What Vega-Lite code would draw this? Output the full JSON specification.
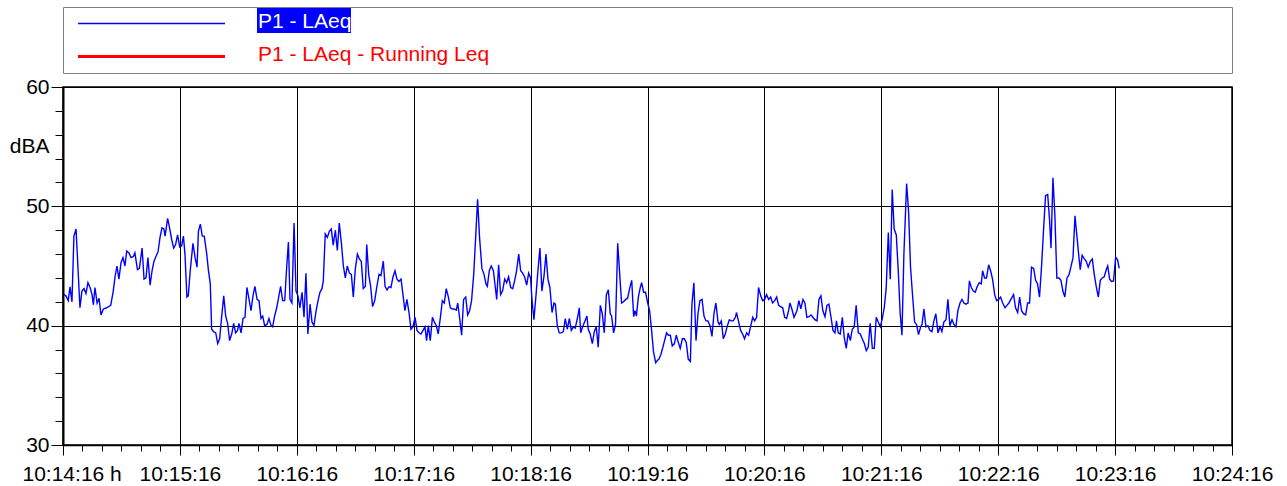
{
  "$schema": "https://vega.github.io/schema/vega-lite/v6.json",
  "background": "white",
  "padding": {"left": 8, "top": 6, "right": 5, "bottom": 5},
  "spacing": 14,
  "bounds": "flush",
  "config": {"font": "Liberation Sans", "axis": {"labelFont": "Liberation Sans"}},
  "vconcat": [
    {
      "width": 1169,
      "height": 66,
      "view": {"stroke": "#7f7f7f", "strokeWidth": 1},
      "data": {"values": [{"series": "P1 - LAeq"}, {"series": "P1 - LAeq - Running Leq"}]},
      "encoding": {
        "y": {"field": "series", "type": "nominal", "scale": {"type": "point", "padding": 0.5}, "axis": null}
      },
      "layer": [
        {
          "mark": {"type": "rule"},
          "encoding": {
            "x": {"datum": 15, "type": "quantitative", "scale": {"domain": [0, 1169], "nice": false, "zero": false}, "axis": null},
            "x2": {"datum": 162},
            "stroke": {"field": "series", "type": "nominal", "scale": {"domain": ["P1 - LAeq", "P1 - LAeq - Running Leq"], "range": ["#0000FF", "#FF0000"]}, "legend": null},
            "strokeWidth": {"field": "series", "type": "nominal", "scale": {"domain": ["P1 - LAeq", "P1 - LAeq - Running Leq"], "range": [1.6, 2.8]}, "legend": null}
          }
        },
        {
          "transform": [{"filter": "datum.series == 'P1 - LAeq'"}],
          "mark": {"type": "rect", "height": 25, "yOffset": -3, "color": "#0000FF"},
          "encoding": {
            "x": {"datum": 194, "type": "quantitative", "axis": null},
            "x2": {"datum": 288}
          }
        },
        {
          "mark": {"type": "text", "align": "left", "baseline": "alphabetic", "dy": 4, "fontSize": 21, "font": "Liberation Sans"},
          "encoding": {
            "x": {"datum": 195, "type": "quantitative", "axis": null},
            "text": {"field": "series"},
            "color": {"condition": {"test": "datum.series == 'P1 - LAeq'", "value": "white"}, "value": "#FF0000"}
          }
        }
      ]
    },
    {
      "width": 1169,
      "height": 358,
      "view": {"stroke": "black", "strokeWidth": 1.5},
      "data": {"values": [
        {"t":0.5,"LAeq":42.6},{"t":1.5,"LAeq":42.5},{"t":2.7,"LAeq":42.1},{"t":3.6,"LAeq":43.25},{"t":4.6,"LAeq":42.0},{"t":5.6,"LAeq":47.5},{"t":6.7,"LAeq":48.1},{"t":8.7,"LAeq":41.5},{"t":9.7,"LAeq":42.9},{"t":10.8,"LAeq":43.1},{"t":11.8,"LAeq":42.7},{"t":12.8,"LAeq":43.6},{"t":13.9,"LAeq":43.2},{"t":14.9,"LAeq":42.6},{"t":15.6,"LAeq":41.75},{"t":16.4,"LAeq":43.2},{"t":17.5,"LAeq":41.9},{"t":18.5,"LAeq":42.3},{"t":19.5,"LAeq":40.9},{"t":20.7,"LAeq":41.4},{"t":22.4,"LAeq":41.5},{"t":24.5,"LAeq":41.7},{"t":25.8,"LAeq":42.9},{"t":26.7,"LAeq":44.1},{"t":27.7,"LAeq":45.0},{"t":28.7,"LAeq":43.9},{"t":29.8,"LAeq":45.3},{"t":30.8,"LAeq":45.7},{"t":31.8,"LAeq":45.0},{"t":32.7,"LAeq":46.25},{"t":33.9,"LAeq":46.1},{"t":34.9,"LAeq":45.7},{"t":36.1,"LAeq":45.8},{"t":36.9,"LAeq":46.1},{"t":38.2,"LAeq":44.7},{"t":39.2,"LAeq":44.8},{"t":40.6,"LAeq":46.5},{"t":41.6,"LAeq":43.9},{"t":42.6,"LAeq":44.0},{"t":43.6,"LAeq":45.7},{"t":44.7,"LAeq":43.4},{"t":45.7,"LAeq":44.6},{"t":46.7,"LAeq":45.4},{"t":47.7,"LAeq":45.8},{"t":48.8,"LAeq":46.2},{"t":49.8,"LAeq":47.4},{"t":50.8,"LAeq":48.2},{"t":51.8,"LAeq":48.1},
        {"t":52.4,"LAeq":47.5},{"t":53.7,"LAeq":49.0},{"t":54.7,"LAeq":48.2},{"t":55.8,"LAeq":47.2},{"t":56.8,"LAeq":46.5},{"t":57.8,"LAeq":46.8},{"t":58.8,"LAeq":47.6},{"t":59.9,"LAeq":46.6},{"t":60.9,"LAeq":46.7},{"t":61.8,"LAeq":47.5},{"t":62.6,"LAeq":46.0},{"t":63.6,"LAeq":42.4},{"t":64.3,"LAeq":42.5},{"t":65.3,"LAeq":44.6},{"t":66.7,"LAeq":46.9},{"t":67.8,"LAeq":45.7},{"t":68.8,"LAeq":44.9},{"t":69.5,"LAeq":47.9},{"t":70.5,"LAeq":48.5},{"t":71.5,"LAeq":47.5},{"t":72.5,"LAeq":47.5},{"t":73.7,"LAeq":46.1},{"t":74.6,"LAeq":44.7},{"t":75.6,"LAeq":43.5},{"t":76.3,"LAeq":39.7},{"t":77.3,"LAeq":39.5},{"t":78.4,"LAeq":39.4},{"t":79.4,"LAeq":38.5},{"t":80.4,"LAeq":38.9},{"t":81.4,"LAeq":40.7},{"t":82.5,"LAeq":42.5},{"t":83.5,"LAeq":40.8},{"t":84.5,"LAeq":40.2},{"t":85.5,"LAeq":38.75},{"t":86.6,"LAeq":39.3},{"t":87.6,"LAeq":40.2},{"t":88.6,"LAeq":39.4},{"t":89.6,"LAeq":39.6},{"t":90.3,"LAeq":40.2},{"t":91.4,"LAeq":39.4},{"t":92.4,"LAeq":40.6},{"t":93.4,"LAeq":40.7},{"t":94.4,"LAeq":43.2},{"t":95.5,"LAeq":42.2},{"t":96.5,"LAeq":41.25},{"t":97.5,"LAeq":42.5},{"t":98.5,"LAeq":43.3},{"t":99.6,"LAeq":42.2},{"t":100.6,"LAeq":42.1},{"t":101.6,"LAeq":40.6},{"t":102.5,"LAeq":40.8},{"t":103.5,"LAeq":40.0},{"t":104.7,"LAeq":40.1},{"t":105.7,"LAeq":40.6},
        {"t":106.8,"LAeq":40.0},{"t":107.6,"LAeq":39.9},{"t":108.6,"LAeq":40.8},{"t":109.7,"LAeq":41.5},{"t":110.7,"LAeq":42.4},{"t":111.7,"LAeq":43.3},{"t":112.7,"LAeq":42.1},{"t":113.8,"LAeq":42.1},{"t":114.8,"LAeq":44.9},{"t":115.7,"LAeq":47.0},{"t":116.5,"LAeq":42.2},{"t":117.5,"LAeq":41.9},{"t":118.6,"LAeq":48.6},{"t":119.6,"LAeq":42.9},{"t":120.6,"LAeq":42.5},{"t":121.6,"LAeq":41.5},{"t":122.7,"LAeq":42.8},{"t":123.7,"LAeq":40.7},{"t":124.7,"LAeq":44.4},{"t":125.7,"LAeq":39.3},{"t":126.8,"LAeq":41.8},{"t":127.8,"LAeq":40.3},{"t":128.8,"LAeq":40.0},{"t":129.9,"LAeq":41.25},{"t":130.9,"LAeq":42.1},{"t":131.9,"LAeq":42.8},{"t":132.9,"LAeq":43.1},{"t":133.6,"LAeq":43.75},{"t":134.6,"LAeq":47.7},{"t":135.7,"LAeq":47.4},{"t":136.7,"LAeq":47.9},{"t":137.7,"LAeq":48.1},{"t":138.7,"LAeq":46.75},{"t":139.8,"LAeq":48.0},{"t":140.8,"LAeq":46.3},{"t":141.8,"LAeq":48.6},{"t":142.9,"LAeq":46.9},{"t":143.9,"LAeq":45.0},{"t":144.9,"LAeq":44.0},{"t":145.9,"LAeq":45.0},{"t":147.0,"LAeq":44.4},{"t":148.0,"LAeq":44.3},{"t":149.0,"LAeq":42.4},{"t":150.0,"LAeq":44.7},{"t":151.1,"LAeq":46.0},{"t":152.1,"LAeq":45.6},{"t":153.1,"LAeq":45.4},{"t":154.1,"LAeq":43.1},{"t":155.2,"LAeq":43.3},{"t":155.9,"LAeq":46.8},{"t":156.9,"LAeq":44.3},{"t":157.9,"LAeq":43.3},{"t":158.9,"LAeq":41.6},{"t":160.0,"LAeq":42.1},
        {"t":161.1,"LAeq":43.3},{"t":162.2,"LAeq":44.3},{"t":163.2,"LAeq":44.2},{"t":164.4,"LAeq":45.4},{"t":165.3,"LAeq":43.3},{"t":166.3,"LAeq":43.0},{"t":167.3,"LAeq":43.25},{"t":168.3,"LAeq":43.2},{"t":169.4,"LAeq":44.1},{"t":170.4,"LAeq":44.6},{"t":171.4,"LAeq":43.9},{"t":172.4,"LAeq":43.7},{"t":173.5,"LAeq":43.9},{"t":174.5,"LAeq":42.6},{"t":175.5,"LAeq":41.25},{"t":176.5,"LAeq":42.2},{"t":177.6,"LAeq":41.1},{"t":178.6,"LAeq":39.7},{"t":179.6,"LAeq":39.9},{"t":180.7,"LAeq":40.7},{"t":181.7,"LAeq":39.6},{"t":182.7,"LAeq":39.4},{"t":183.7,"LAeq":39.3},{"t":184.8,"LAeq":39.6},{"t":185.8,"LAeq":39.9},{"t":186.6,"LAeq":38.75},{"t":187.5,"LAeq":40.0},{"t":188.5,"LAeq":38.75},{"t":189.6,"LAeq":40.7},{"t":190.6,"LAeq":40.3},{"t":191.6,"LAeq":40.0},{"t":192.6,"LAeq":39.3},{"t":193.7,"LAeq":40.7},{"t":194.7,"LAeq":42.1},{"t":195.7,"LAeq":41.9},{"t":196.7,"LAeq":43.1},{"t":197.8,"LAeq":42.4},{"t":198.8,"LAeq":41.5},{"t":199.8,"LAeq":41.4},{"t":200.8,"LAeq":41.4},{"t":201.9,"LAeq":41.3},{"t":202.6,"LAeq":41.9},{"t":203.6,"LAeq":40.6},{"t":204.6,"LAeq":39.2},{"t":205.6,"LAeq":42.2},{"t":206.7,"LAeq":42.4},{"t":207.7,"LAeq":40.9},{"t":208.7,"LAeq":41.25},{"t":209.7,"LAeq":42.1},{"t":210.8,"LAeq":44.3},{"t":211.8,"LAeq":47.4},{"t":212.8,"LAeq":50.6},{"t":213.8,"LAeq":47.4},
        {"t":215.0,"LAeq":44.8},{"t":216.1,"LAeq":44.3},{"t":217.1,"LAeq":43.5},{"t":217.8,"LAeq":43.3},{"t":218.8,"LAeq":44.6},{"t":219.8,"LAeq":45.0},{"t":220.9,"LAeq":44.6},{"t":221.9,"LAeq":43.2},{"t":222.6,"LAeq":42.2},{"t":223.6,"LAeq":45.1},{"t":224.6,"LAeq":42.6},{"t":225.6,"LAeq":42.9},{"t":226.7,"LAeq":43.9},{"t":227.7,"LAeq":43.6},{"t":228.7,"LAeq":44.1},{"t":229.8,"LAeq":43.2},{"t":230.8,"LAeq":43.1},{"t":231.8,"LAeq":43.75},{"t":232.8,"LAeq":44.6},{"t":233.9,"LAeq":46.0},{"t":234.9,"LAeq":44.6},{"t":235.9,"LAeq":44.4},{"t":236.9,"LAeq":44.1},{"t":238.0,"LAeq":43.4},{"t":239.0,"LAeq":44.4},{"t":240.0,"LAeq":44.0},{"t":240.7,"LAeq":42.2},{"t":241.7,"LAeq":40.5},{"t":242.8,"LAeq":42.6},{"t":243.8,"LAeq":44.7},{"t":244.8,"LAeq":46.5},{"t":245.8,"LAeq":42.9},{"t":246.9,"LAeq":44.2},{"t":247.9,"LAeq":46.0},{"t":248.9,"LAeq":43.9},{"t":249.9,"LAeq":43.2},{"t":251.0,"LAeq":41.1},{"t":252.0,"LAeq":41.9},{"t":252.7,"LAeq":41.8},{"t":253.7,"LAeq":40.0},{"t":254.7,"LAeq":39.4},{"t":255.8,"LAeq":39.4},{"t":256.8,"LAeq":39.5},{"t":257.8,"LAeq":40.6},{"t":258.8,"LAeq":39.7},{"t":259.9,"LAeq":40.6},{"t":260.9,"LAeq":39.6},{"t":261.9,"LAeq":39.9},{"t":262.9,"LAeq":39.8},{"t":264.0,"LAeq":40.6},{"t":265.0,"LAeq":41.5},{"t":265.7,"LAeq":39.4},{"t":266.7,"LAeq":39.9},{"t":267.7,"LAeq":40.3},
        {"t":268.9,"LAeq":40.8},{"t":269.6,"LAeq":39.7},{"t":270.6,"LAeq":39.3},{"t":271.7,"LAeq":38.5},{"t":272.7,"LAeq":39.5},{"t":273.7,"LAeq":39.9},{"t":274.7,"LAeq":38.2},{"t":275.8,"LAeq":41.7},{"t":276.8,"LAeq":41.0},{"t":277.8,"LAeq":39.4},{"t":278.9,"LAeq":42.6},{"t":279.9,"LAeq":43.0},{"t":280.9,"LAeq":41.0},{"t":281.6,"LAeq":40.8},{"t":282.6,"LAeq":39.4},{"t":283.6,"LAeq":40.1},{"t":284.7,"LAeq":46.9},{"t":285.7,"LAeq":44.4},{"t":286.7,"LAeq":41.9},{"t":287.7,"LAeq":42.0},{"t":288.8,"LAeq":42.2},{"t":289.8,"LAeq":42.3},{"t":290.8,"LAeq":43.1},{"t":291.9,"LAeq":43.8},{"t":292.9,"LAeq":40.75},{"t":293.6,"LAeq":41.25},{"t":294.3,"LAeq":40.8},{"t":295.3,"LAeq":42.4},{"t":296.3,"LAeq":43.2},{"t":297.0,"LAeq":43.6},{"t":298.0,"LAeq":42.8},{"t":299.0,"LAeq":42.8},{"t":300.1,"LAeq":41.9},{"t":301.1,"LAeq":41.25},{"t":302.1,"LAeq":39.6},{"t":303.1,"LAeq":37.8},{"t":304.2,"LAeq":36.9},{"t":305.2,"LAeq":37.1},{"t":305.9,"LAeq":37.2},{"t":306.9,"LAeq":37.6},{"t":307.9,"LAeq":38.2},{"t":309.0,"LAeq":38.9},{"t":309.8,"LAeq":39.4},{"t":310.7,"LAeq":39.2},{"t":311.7,"LAeq":39.2},{"t":312.7,"LAeq":38.3},{"t":313.8,"LAeq":38.5},{"t":314.8,"LAeq":39.2},{"t":315.8,"LAeq":38.6},{"t":316.8,"LAeq":38.1},{"t":317.9,"LAeq":38.9},{"t":318.9,"LAeq":38.9},{"t":319.9,"LAeq":38.6},{"t":320.9,"LAeq":37.2},
        {"t":322.0,"LAeq":37.0},{"t":322.8,"LAeq":41.8},{"t":323.8,"LAeq":43.6},{"t":324.9,"LAeq":38.75},{"t":325.9,"LAeq":41.0},{"t":326.9,"LAeq":42.1},{"t":328.0,"LAeq":42.2},{"t":329.0,"LAeq":40.8},{"t":330.0,"LAeq":40.4},{"t":331.0,"LAeq":40.4},{"t":332.1,"LAeq":40.0},{"t":333.1,"LAeq":39.1},{"t":334.1,"LAeq":41.0},{"t":335.1,"LAeq":41.9},{"t":336.2,"LAeq":40.3},{"t":336.8,"LAeq":40.1},{"t":337.9,"LAeq":40.4},{"t":338.9,"LAeq":38.9},{"t":339.9,"LAeq":39.3},{"t":341.0,"LAeq":40.0},{"t":342.0,"LAeq":40.5},{"t":343.0,"LAeq":40.4},{"t":344.0,"LAeq":40.4},{"t":345.1,"LAeq":40.7},{"t":345.7,"LAeq":41.1},{"t":346.8,"LAeq":40.3},{"t":347.8,"LAeq":39.6},{"t":348.8,"LAeq":39.3},{"t":349.8,"LAeq":38.9},{"t":350.9,"LAeq":39.4},{"t":351.9,"LAeq":39.2},{"t":352.9,"LAeq":39.9},{"t":354.0,"LAeq":40.7},{"t":355.0,"LAeq":40.4},{"t":356.0,"LAeq":40.7},{"t":357.0,"LAeq":43.2},{"t":358.1,"LAeq":42.5},{"t":359.1,"LAeq":42.1},{"t":360.1,"LAeq":42.2},{"t":361.1,"LAeq":42.6},{"t":362.2,"LAeq":42.2},{"t":363.2,"LAeq":42.4},{"t":364.2,"LAeq":41.9},{"t":365.3,"LAeq":42.1},{"t":366.3,"LAeq":42.4},{"t":367.3,"LAeq":41.7},{"t":368.3,"LAeq":41.6},{"t":369.4,"LAeq":41.5},{"t":370.4,"LAeq":40.7},{"t":371.4,"LAeq":40.6},{"t":372.4,"LAeq":41.25},{"t":373.1,"LAeq":41.9},{"t":374.1,"LAeq":41.4},{"t":375.2,"LAeq":40.7},
        {"t":376.7,"LAeq":41.25},{"t":377.7,"LAeq":42.1},{"t":378.7,"LAeq":41.4},{"t":379.8,"LAeq":42.2},{"t":380.8,"LAeq":41.9},{"t":381.8,"LAeq":40.7},{"t":382.9,"LAeq":40.75},{"t":383.9,"LAeq":40.9},{"t":384.9,"LAeq":40.7},{"t":385.9,"LAeq":40.5},{"t":387.0,"LAeq":40.4},{"t":388.0,"LAeq":42.2},{"t":389.0,"LAeq":42.5},{"t":390.0,"LAeq":41.25},{"t":391.1,"LAeq":40.75},{"t":392.1,"LAeq":41.7},{"t":393.1,"LAeq":41.8},{"t":394.2,"LAeq":40.7},{"t":395.2,"LAeq":39.6},{"t":396.2,"LAeq":39.4},{"t":397.0,"LAeq":40.4},{"t":397.9,"LAeq":39.4},{"t":398.9,"LAeq":39.3},{"t":400.0,"LAeq":40.7},{"t":401.0,"LAeq":39.0},{"t":402.0,"LAeq":38.1},{"t":403.0,"LAeq":39.4},{"t":404.1,"LAeq":38.75},{"t":405.1,"LAeq":39.7},{"t":406.1,"LAeq":39.9},{"t":407.1,"LAeq":41.7},{"t":408.2,"LAeq":39.4},{"t":409.2,"LAeq":39.3},{"t":410.2,"LAeq":38.9},{"t":411.3,"LAeq":38.5},{"t":412.3,"LAeq":37.9},{"t":413.3,"LAeq":38.2},{"t":414.3,"LAeq":40.2},{"t":415.4,"LAeq":38.1},{"t":416.4,"LAeq":38.1},{"t":417.4,"LAeq":40.7},{"t":418.4,"LAeq":40.3},{"t":419.5,"LAeq":39.9},{"t":420.5,"LAeq":40.6},{"t":421.5,"LAeq":41.5},{"t":422.5,"LAeq":43.1},{"t":423.6,"LAeq":47.8},{"t":424.6,"LAeq":43.9},{"t":425.6,"LAeq":51.4},{"t":426.6,"LAeq":48.1},{"t":427.7,"LAeq":47.6},{"t":428.7,"LAeq":44.6},
        {"t":429.7,"LAeq":41.0},{"t":430.6,"LAeq":39.2},{"t":431.6,"LAeq":46.0},{"t":433.0,"LAeq":51.9},{"t":434.0,"LAeq":49.6},{"t":435.0,"LAeq":44.9},{"t":436.1,"LAeq":42.4},{"t":437.1,"LAeq":40.3},{"t":438.1,"LAeq":40.1},{"t":439.1,"LAeq":39.25},{"t":440.2,"LAeq":39.9},{"t":440.9,"LAeq":40.1},{"t":441.9,"LAeq":41.4},{"t":442.9,"LAeq":39.9},{"t":443.9,"LAeq":40.0},{"t":445.0,"LAeq":39.6},{"t":446.0,"LAeq":39.5},{"t":447.0,"LAeq":40.4},{"t":448.0,"LAeq":41.0},{"t":449.1,"LAeq":39.4},{"t":450.1,"LAeq":39.9},{"t":451.1,"LAeq":39.5},{"t":452.1,"LAeq":40.3},{"t":453.2,"LAeq":40.5},{"t":454.2,"LAeq":42.2},{"t":455.2,"LAeq":40.0},{"t":456.3,"LAeq":40.5},{"t":457.3,"LAeq":40.1},{"t":458.3,"LAeq":39.9},{"t":459.3,"LAeq":41.25},{"t":460.4,"LAeq":41.9},{"t":461.4,"LAeq":42.2},{"t":462.4,"LAeq":41.9},{"t":463.4,"LAeq":41.8},{"t":464.5,"LAeq":41.9},{"t":465.2,"LAeq":43.75},{"t":466.2,"LAeq":43.2},{"t":467.2,"LAeq":42.9},{"t":468.2,"LAeq":42.8},{"t":469.3,"LAeq":43.3},{"t":470.3,"LAeq":43.6},{"t":471.3,"LAeq":43.5},{"t":472.0,"LAeq":44.6},{"t":473.0,"LAeq":44.0},{"t":474.0,"LAeq":44.0},{"t":475.1,"LAeq":45.1},{"t":476.1,"LAeq":44.6},{"t":477.1,"LAeq":43.9},{"t":478.2,"LAeq":42.6},{"t":479.2,"LAeq":42.1},{"t":480.2,"LAeq":42.2},{"t":481.2,"LAeq":42.4},{"t":482.3,"LAeq":41.9},
        {"t":483.5,"LAeq":41.5},{"t":484.5,"LAeq":41.7},{"t":485.5,"LAeq":41.9},{"t":486.5,"LAeq":42.2},{"t":487.9,"LAeq":42.6},{"t":488.9,"LAeq":41.5},{"t":490.0,"LAeq":41.1},{"t":491.0,"LAeq":42.4},{"t":492.0,"LAeq":41.25},{"t":493.0,"LAeq":41.0},{"t":494.1,"LAeq":40.9},{"t":495.1,"LAeq":41.9},{"t":496.1,"LAeq":41.9},{"t":497.1,"LAeq":44.9},{"t":498.2,"LAeq":44.8},{"t":499.2,"LAeq":43.8},{"t":500.2,"LAeq":43.5},{"t":501.2,"LAeq":42.4},{"t":502.3,"LAeq":45.1},{"t":503.3,"LAeq":48.1},{"t":504.3,"LAeq":50.9},{"t":505.4,"LAeq":51.0},{"t":506.4,"LAeq":48.75},{"t":507.1,"LAeq":46.5},{"t":508.1,"LAeq":52.4},{"t":509.1,"LAeq":49.2},{"t":510.1,"LAeq":44.0},{"t":511.2,"LAeq":44.0},{"t":512.2,"LAeq":43.8},{"t":513.2,"LAeq":42.9},{"t":514.2,"LAeq":42.4},{"t":515.3,"LAeq":44.0},{"t":516.3,"LAeq":44.25},{"t":517.3,"LAeq":44.9},{"t":518.4,"LAeq":45.7},{"t":519.4,"LAeq":49.2},{"t":520.4,"LAeq":47.5},{"t":521.4,"LAeq":45.8},{"t":522.1,"LAeq":44.7},{"t":523.1,"LAeq":45.9},{"t":524.2,"LAeq":45.6},{"t":525.2,"LAeq":45.4},{"t":526.2,"LAeq":44.9},{"t":527.3,"LAeq":45.4},{"t":528.3,"LAeq":45.6},{"t":529.3,"LAeq":44.3},{"t":530.3,"LAeq":43.3},{"t":531.4,"LAeq":42.4},{"t":532.4,"LAeq":43.8},{"t":533.4,"LAeq":44.0},{"t":534.4,"LAeq":44.1},{"t":535.5,"LAeq":44.7},{"t":536.2,"LAeq":45.0},{"t":537.2,"LAeq":43.9},{"t":538.2,"LAeq":43.7},{"t":539.2,"LAeq":43.75},{"t":540.3,"LAeq":45.75},{"t":541.3,"LAeq":45.5},{"t":542.1,"LAeq":44.8}
      ]},
      "layer": [
        {
          "mark": {"type": "line", "color": "#0000FF", "strokeWidth": 1.4},
          "encoding": {
            "x": {
              "field": "t", "type": "quantitative",
              "scale": {"domain": [0, 600], "nice": false, "zero": false},
              "axis": {
                "title": null,
                "values": [0, 60, 120, 180, 240, 300, 360, 420, 480, 540, 600],
                "labelExpr": "'10:' + (14 + round(datum.value / 60)) + ':16' + (datum.value == 0 ? '  h' : '')",
                "labelAlign": {"condition": {"test": "datum.value == 0", "value": "left"}, "value": "center"},
                "labelOffset": {"condition": {"test": "datum.value == 0", "value": -41}, "value": 0},
                "labelFlush": false,
                "labelOverlap": false,
                "labelFontSize": 21,
                "labelColor": "black",
                "labelPadding": 8,
                "tickSize": 10,
                "tickColor": "black",
                "tickWidth": 1,
                "grid": true,
                "gridColor": "black",
                "gridOpacity": 1,
                "gridWidth": 1,
                "domainColor": "black",
                "domainWidth": 1.5
              }
            },
            "y": {
              "field": "LAeq", "type": "quantitative",
              "scale": {"domain": [30, 60], "nice": false, "zero": false},
              "axis": {
                "title": null,
                "values": [30, 40, 50, 55, 60],
                "labelExpr": "datum.value == 55 ? 'dBA' : datum.label",
                "labelFlush": false,
                "labelOverlap": false,
                "labelFontSize": 21,
                "labelColor": "black",
                "labelPadding": 2,
                "labelBaseline": "middle",
                "tickSize": 12,
                "tickColor": "black",
                "tickOpacity": {"condition": {"test": "datum.value == 55", "value": 0}, "value": 1},
                "grid": true,
                "gridColor": "black",
                "gridOpacity": {"condition": {"test": "datum.value == 55", "value": 0}, "value": 1},
                "gridWidth": 1,
                "domainColor": "black",
                "domainWidth": 2
              }
            }
          }
        },
        {
          "mark": {"type": "line", "opacity": 0},
          "encoding": {
            "x": {
              "field": "t", "type": "quantitative",
              "axis": {
                "orient": "bottom",
                "title": null,
                "values": [10,20,30,40,50,70,80,90,100,110,130,140,150,160,170,190,200,210,220,230,250,260,270,280,290,310,320,330,340,350,370,380,390,400,410,430,440,450,460,470,490,500,510,520,530,550,560,570,580,590],
                "labels": false,
                "grid": false,
                "domain": false,
                "tickSize": 6,
                "tickColor": "black"
              }
            },
            "y": {
              "field": "LAeq", "type": "quantitative",
              "axis": {
                "orient": "left",
                "title": null,
                "values": [32,34,36,38,42,44,46,48,52,54,56,58],
                "labels": false,
                "grid": false,
                "domain": false,
                "tickSize": 8,
                "tickColor": "black"
              }
            }
          }
        }
      ],
      "resolve": {"axis": {"x": "independent", "y": "independent"}}
    }
  ]
}
